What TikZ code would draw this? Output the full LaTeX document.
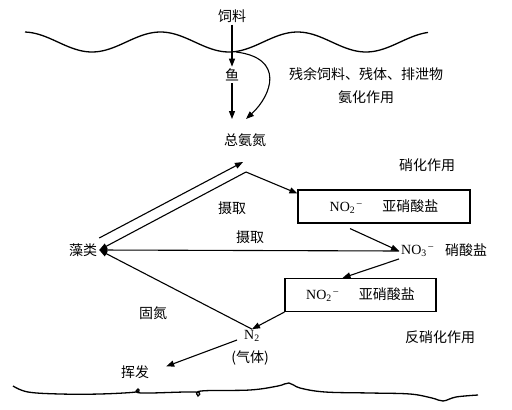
\documentclass[tikz,border=0pt]{standalone}
\usepackage{fontspec}
\newfontfamily\cjk{Noto Sans CJK SC}
\newfontfamily\lat{Liberation Serif}
\newcommand{\chem}[2]{{\lat #1\textsubscript{#2}}}
\newcommand{\ionminus}{{\lat\textsuperscript{\,\textendash}}}
\usetikzlibrary{arrows.meta}

\begin{document}
\begin{tikzpicture}[
    x=1pt, y=-1pt,
    lab/.style={font=\cjk\fontsize{14}{23}\selectfont, inner sep=2pt},
    salt/.style={draw, line width=1.1pt, minimum height=33pt,
                 font=\cjk\fontsize{14}{16}\selectfont},
    arr/.style={-{Triangle[length=8pt,width=6pt]}, line width=1.1pt},
    shore/.style={line width=1.3pt}
  ]
  \useasboundingbox (0,0) rectangle (512,410);

  % water surface and pond bottom
  \draw[shore] plot[domain=25:428, samples=120, smooth]
    (\x, {42 + 10*cos(2.6277*(\x-92))});
  \draw[shore] plot[smooth, tension=0.6] coordinates {
    (13,386) (28,392) (60,394) (100,394) (136,392) (138,389) (141,393)
    (195,392) (198,396) (201,391) (250,390) (278,386) (289,383) (300,388)
    (325,392) (370,393) (410,394) (432,398) (443,401) (456,397) (478,395)};

  % feed, fish and waste
  \node[lab] (feed) at (232,16) {饲料};
  \node[lab] (fish) at (232,75) {鱼};
  \node[lab, align=center] (waste) at (366,86)
    {残余饲料、残体、排泄物\\氨化作用};
  \node[lab] (tan) at (245,140) {总氨氮};
  \coordinate (drop) at (236,52);
  \coordinate (fishin) at (232,119);
  \coordinate (wastein) at (246,119);
  \draw[arr] (feed) -- (fish);
  \draw[arr] (fish) -- (fishin);
  \draw[arr] (drop) .. controls (285,58) and (272,95) .. (wastein);

  % nitrification
  \node[lab] (nitri) at (427,165) {硝化作用};
  \node[salt, minimum width=172pt] (no2a) at (384,206.5)
    {\chem{NO}{2}\ionminus\hspace{20pt}亚硝酸盐};
  \node[lab] (up1) at (232,208) {摄取};
  \node[lab] (up2) at (250,237) {摄取};
  \node[lab] (algae) at (83,250) {藻类};
  \node[lab, anchor=west] (no3) at (399,251) {\chem{NO}{3}\ionminus};
  \node[lab] (nitrate) at (466,250) {硝酸盐};
  \coordinate (uptip) at (243,162);
  \coordinate (hub) at (246,172);
  \draw[arr] ([shift={(0,-12)}]algae.east) -- (uptip);
  \draw[arr] (hub) -- (algae.east);
  \draw[arr] (hub) -- ([shift={(0,-13)}]no2a.west);
  \draw[arr] ([shift={(-34,5)}]no2a.south) -- (no3.west);
  \draw[arr] (no3.west) -- (algae.east);

  % denitrification
  \node[salt, minimum width=151pt] (no2b) at (360.5,295)
    {\chem{NO}{2}\ionminus\hspace{20pt}亚硝酸盐};
  \node[lab] (fix) at (153,313) {固氮};
  \node[lab, inner sep=1pt] (n2) at (252,336) {\chem{N}{2}};
  \node[lab] (gas) at (250,358) {(气体)};
  \node[lab] (denit) at (440,337) {反硝化作用};
  \node[lab] (volat) at (135,372) {挥发};
  \draw[arr] (no3.south west) -- ([shift={(-18,0)}]no2b.north);
  \draw[arr] (no2b.south west) -- (n2.north);
  \draw[arr] (n2.north) -- (algae.east);
  \draw[arr, shorten >=16pt] ([shift={(-6,4)}]n2.west) -- (volat.east);
\end{tikzpicture}
\end{document}
